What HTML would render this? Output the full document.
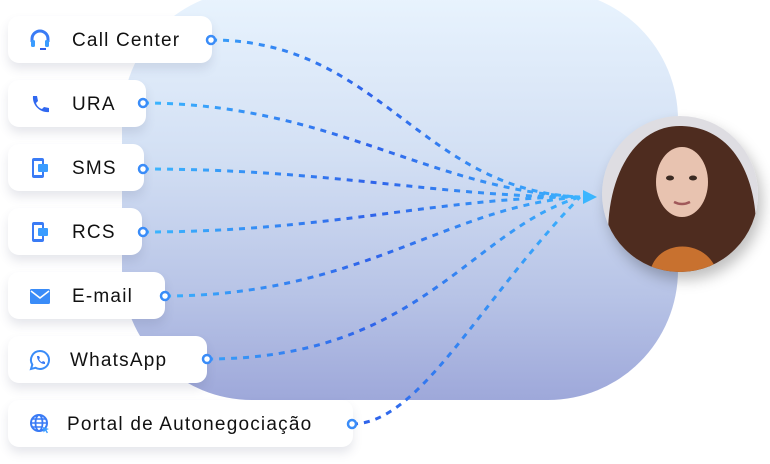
<!DOCTYPE html>
<html><head><meta charset="utf-8"><style>
html,body{margin:0;padding:0;background:#fff;}
body{width:770px;height:464px;position:relative;overflow:hidden;font-family:"Liberation Sans",sans-serif;}
.bg{position:absolute;left:122px;top:-10px;width:556px;height:410px;border-radius:130px;background:linear-gradient(180deg,#e9f4fe 0%,#d3e0f4 40%,#b7c3e6 75%,#9ea8da 100%);}
.card{position:absolute;left:8px;height:47px;background:#fff;border-radius:11px;box-shadow:0 6px 10px rgba(60,70,110,0.13);font-size:19px;letter-spacing:1.2px;color:#111;line-height:49px;}
.card span{position:absolute;top:0;white-space:nowrap;}
.ic{position:absolute;top:13px;left:21px;width:22px;height:22px;}
svg.lines{position:absolute;left:0;top:0;}
.av{position:absolute;left:602px;top:116px;width:156px;height:156px;border-radius:50%;overflow:hidden;box-shadow:4px 8px 14px rgba(0,0,0,0.25);}
</style></head><body>
<div class="bg"></div>

<div class="card" style="top:16px;width:204px"><svg class="ic" viewBox="0 0 22 22"><path d="M3 13V10a8 8 0 0 1 16 0v3" fill="none" stroke="#3a7bf5" stroke-width="3"/><rect x="2" y="11" width="4" height="7" rx="1.5" fill="#3a9cff"/><rect x="16" y="11" width="4" height="7" rx="1.5" fill="#3a9cff"/><rect x="11" y="19" width="6" height="2" fill="#2f5fe8"/></svg><span style="left:64px">Call Center</span></div>
<div class="card" style="top:80px;width:138px"><svg class="ic" viewBox="0 0 22 22"><path d="M4 3l4 0 1 5-2 2c1 3 3 5 6 6l2-2 5 1v4c-9 1-17-7-16-16z" fill="#3068f0"/></svg><span style="left:64px">URA</span></div>
<div class="card" style="top:144px;width:136px"><svg class="ic" viewBox="0 0 22 22"><rect x="3" y="1" width="12" height="20" rx="2" fill="#3a7bf5"/><rect x="5" y="4" width="8" height="14" fill="#fff"/><rect x="9" y="7" width="10" height="8" rx="1" fill="#3a9cff"/></svg><span style="left:64px">SMS</span></div>
<div class="card" style="top:208px;width:134px"><svg class="ic" viewBox="0 0 22 22"><rect x="3" y="1" width="12" height="20" rx="2" fill="#3a7bf5"/><rect x="5" y="4" width="8" height="14" fill="#fff"/><rect x="9" y="7" width="10" height="8" rx="1" fill="#3a9cff"/></svg><span style="left:64px">RCS</span></div>
<div class="card" style="top:272px;width:157px"><svg class="ic" viewBox="0 0 22 22"><rect x="1" y="4" width="20" height="15" rx="1.5" fill="#3a8cf8"/><path d="M2 6l9 7 9-7" fill="none" stroke="#fff" stroke-width="1.6"/></svg><span style="left:64px">E-mail</span></div>
<div class="card" style="top:336px;width:199px"><svg class="ic" viewBox="0 0 22 22"><path d="M11 2a9 9 0 1 1-4.5 16.8L2 20l1.3-4.3A9 9 0 0 1 11 2z" fill="none" stroke="#3a8cf8" stroke-width="2"/><path d="M8 7l2 0 1 2-1 1c1 2 2 3 3 3l1-1 2 1v2c-5 0-8-4-8-8z" fill="#3a7bf5"/></svg><span style="left:62px">WhatsApp</span></div>
<div class="card" style="top:400px;width:345px"><svg class="ic" viewBox="0 0 22 22"><circle cx="10" cy="10" r="8" fill="none" stroke="#3a7bf5" stroke-width="2"/><ellipse cx="10" cy="10" rx="3.5" ry="8" fill="none" stroke="#3a7bf5" stroke-width="1.8"/><path d="M2 10h16M3.5 6h13M3.5 14h9" stroke="#3a7bf5" stroke-width="1.6"/><path d="M14 14l6 2-2.5 1 1.5 2.5-1.2.8-1.5-2.5-1.8 1.7z" fill="#3a9cff"/></svg><span style="left:59px">Portal de Autonegociação</span></div>

<svg class="lines" width="770" height="464">
<defs>
<linearGradient id="g" gradientUnits="userSpaceOnUse" x1="150" y1="0" x2="590" y2="0">
<stop offset="0" stop-color="#3bb6ff"/><stop offset="0.5" stop-color="#2f63ea"/><stop offset="1" stop-color="#3bb6ff"/>
</linearGradient>
</defs>
<g fill="none" stroke="url(#g)" stroke-width="3" stroke-dasharray="6,6">
<path d="M211 40 C380 40 420 190 580 197"/>
<path d="M143 103 C330 103 430 190 580 197"/>
<path d="M143 169 C330 169 440 197 580 197"/>
<path d="M143 232 C330 232 440 197 580 197"/>
<path d="M165 296 C360 296 450 205 580 197"/>
<path d="M207 359 C420 359 470 230 580 197"/>
<path d="M352 424 C420 424 480 300 580 197"/>
</g>
<path d="M583 190 L597 197 L583 204 Z" fill="#3bb6ff"/>
<g fill="#fff" stroke="#3a8cf8" stroke-width="2.5">
<circle cx="211" cy="40" r="4"/><circle cx="143" cy="103" r="4"/><circle cx="143" cy="169" r="4"/><circle cx="143" cy="232" r="4"/><circle cx="165" cy="296" r="4"/><circle cx="207" cy="359" r="4"/><circle cx="352" cy="424" r="4"/>
</g>
</svg>
<div class="av"><svg width="156" height="156" viewBox="0 0 156 156"><rect width="156" height="156" fill="#dedde2"/><path d="M10 156 C-5 80 25 8 80 10 C140 12 165 80 150 156Z" fill="#4e2c1f"/><ellipse cx="80" cy="66" rx="26" ry="35" fill="#e8c3b0"/><path d="M48 156 C55 122 105 122 115 156Z" fill="#c8712f"/><ellipse cx="68" cy="62" rx="4" ry="2.5" fill="#3a2a22"/><ellipse cx="91" cy="62" rx="4" ry="2.5" fill="#3a2a22"/><path d="M72 86 q8 4 16 0" stroke="#a0595a" stroke-width="2.5" fill="none"/></svg></div>
</body></html>
